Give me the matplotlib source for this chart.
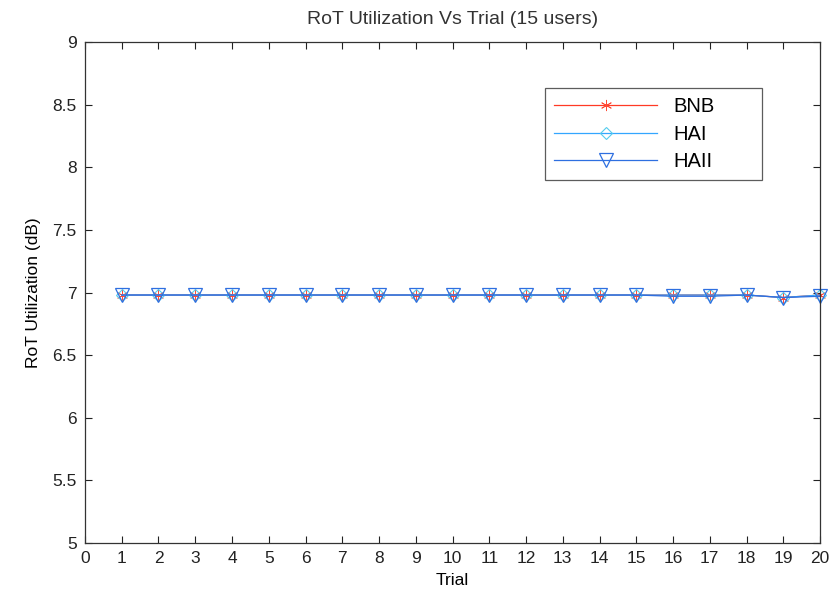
import numpy as np
import matplotlib
matplotlib.use("Agg")
import matplotlib.pyplot as plt

trial = np.arange(1, 21)
bnb = [6.98, 6.98, 6.98, 6.98, 6.98, 6.98, 6.98, 6.98, 6.98, 6.98,
       6.98, 6.98, 6.98, 6.98, 6.98, 6.98, 6.98, 6.98, 6.96, 6.98]
hai = [6.98, 6.98, 6.98, 6.98, 6.98, 6.98, 6.98, 6.98, 6.98, 6.98,
       6.98, 6.98, 6.98, 6.98, 6.98, 6.98, 6.98, 6.98, 6.96, 6.98]
haii = [6.98, 6.98, 6.98, 6.98, 6.98, 6.98, 6.98, 6.98, 6.98, 6.98,
        6.98, 6.98, 6.98, 6.98, 6.98, 6.97, 6.97, 6.98, 6.96, 6.97]

plt.rcParams['font.family'] = ['Liberation Sans', 'DejaVu Sans']

fig = plt.figure(figsize=(8.3, 5.96), dpi=100)
ax = fig.add_axes([0.1024, 0.0889, 0.8856, 0.8406])

# matlab-like asterisk: 6-armed star made of lines
ax.plot(trial, bnb, color='#ff3a25', lw=0.9, marker=(6, 2, 0), ms=8, mec='#ff4a35', mew=0.6,
        label='BNB', clip_on=False)
ax.plot(trial, hai, color='#33a6ff', lw=0.9, marker='D', ms=6.5, mfc='none', mec='#55ccee', mew=0.8,
        label='HAI', clip_on=False)
ax.plot(trial, haii, color='#2e6fe0', lw=0.9, marker='v', ms=10.5, mfc='none', mec='#2e6fe0', mew=0.9,
        label='HAII', clip_on=False)

ax.set_xlim(0, 20)
ax.set_ylim(5, 9)
ax.set_xticks(range(0, 21))
ax.set_yticks(np.arange(5, 9.01, 0.5))
ax.set_yticklabels(['5', '5.5', '6', '6.5', '7', '7.5', '8', '8.5', '9'])
ax.tick_params(direction='in', length=5, labelsize=12.5, top=True, right=True, colors='#222222', pad=6)
for s in ax.spines.values():
    s.set_linewidth(0.9)
    s.set_color('#333333')

ax.set_title('RoT Utilization Vs Trial (15 users)', fontsize=14, color='#333333', pad=13)
ax.set_xlabel('Trial', fontsize=12.5, labelpad=5)
ax.set_ylabel('RoT Utilization (dB)', fontsize=12.5, labelpad=8)

leg = ax.legend(loc='upper left', bbox_to_anchor=(0.626, 0.731, 0.295, 0.177), mode='expand',
                fontsize=14.5, frameon=True, fancybox=False, edgecolor='#333333',
                borderpad=0.45, handlelength=5.1, labelspacing=0.42, numpoints=1,
                handletextpad=0.8, borderaxespad=0)
leg.get_frame().set_linewidth(0.9)

fig.savefig('out.png', dpi=100, facecolor='white')
